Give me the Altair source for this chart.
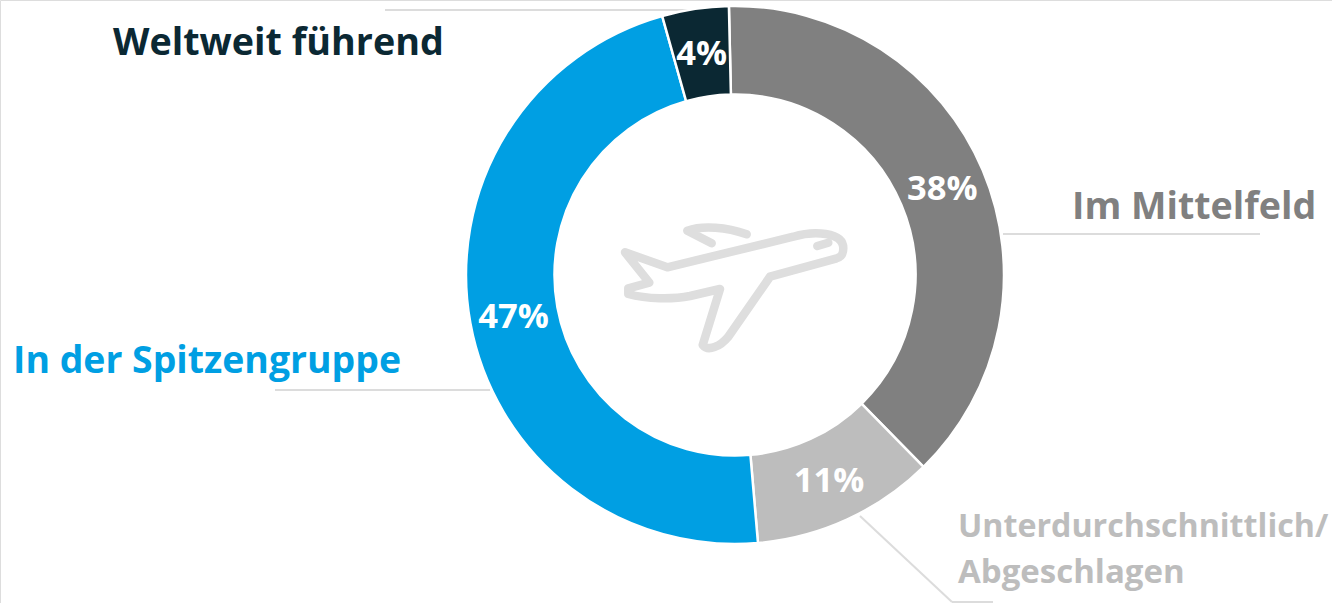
import math
import altair as alt
import pandas as pd

# Survey shares, clockwise from the top of the ring
segments = ["Im Mittelfeld", "Unterdurchschnittlich/Abgeschlagen", "In der Spitzengruppe", "Weltweit führend"]
shares = [38, 11, 47, 4]
percent_labels = ["38%", "11%", "47%", "4%"]
colors = ["#808080", "#bdbdbd", "#009fe3", "#0b2833"]

FONT = "Open Sans"
LEADER = "#dcdcdc"
CX, CY = 735, 275
START = math.radians(-1.3)

table = pd.DataFrame({
    "segment": segments,
    "share": shares,
    "label": percent_labels,
    "rank": range(len(segments)),
})

theta = alt.Theta(
    "share:Q",
    stack=True,
    scale=alt.Scale(domain=[0, 100], range=[START, START + 2 * math.pi]),
)
order = alt.Order("rank:Q", sort="ascending")
color = alt.Color(
    "segment:N",
    scale=alt.Scale(domain=segments, range=colors),
    legend=None,
)
cx, cy = alt.value(CX), alt.value(CY)

ring = (
    alt.Chart(table)
    .mark_arc(radius=269, radius2=180.5, stroke="#ffffff", strokeWidth=2.5)
    .encode(theta=theta, order=order, color=color, x=cx, y=cy)
)

percents = (
    alt.Chart(table)
    .mark_text(radius=225, dy=3, font=FONT, fontWeight="bold", fontSize=34.5, fill="#ffffff")
    .encode(theta=theta, order=order, text="label:N", x=cx, y=cy)
)

# Leader lines from the ring to each caption
base = alt.Chart(pd.DataFrame({"row": [0]}))


def leader(x1, y1, x2, y2):
    return base.mark_rule(stroke=LEADER, strokeWidth=2).encode(
        x=alt.value(x1), y=alt.value(y1), x2=alt.value(x2), y2=alt.value(y2)
    )


leaders = [
    leader(385, 10, 690, 10),
    leader(275, 390, 490, 390),
    leader(1003, 234, 1260, 234),
    leader(860, 516, 952, 602),
    leader(952, 602, 993, 602),
]


def caption(text, x, y, fill, size):
    return base.mark_text(
        text=text, align="left", baseline="alphabetic", font=FONT,
        fontWeight="bold", fontSize=size, fill=fill,
    ).encode(x=alt.value(x), y=alt.value(y))


captions = [
    caption("Weltweit führend", 113, 55, "#0b2833", 37.7),
    caption("In der Spitzengruppe", 13, 373, "#009fe3", 37.4),
    caption("Im Mittelfeld", 1072, 219, "#808080", 37.6),
    caption("Unterdurchschnittlich/", 958, 537, "#bdbdbd", 32.2),
    caption("Abgeschlagen", 958, 583, "#bdbdbd", 33),
]

# Aeroplane icon in the middle of the ring, outlined with round joins
AIRFRAME = (
    "M-110,-22.7 L-67.7,-7.7 L58.3,-38.3 C78.3,-44.3 108.3,-43.3 108.3,-26.7 "
    "C108.3,-20 106,-18 101.7,-16.7 L35,1.7 L-6.7,61.7 C-15,71.7 -26.7,76.7 -32.3,70 "
    "L-15,14 L-45,21 C-61.7,24.3 -88.3,24.3 -106.7,19 L-106.7,13.3 L-85.7,7.7 Z"
)
UPPER_WING = "M-23.3,-31.7 L-47.7,-44.3 C-31.7,-50 -8.3,-47.7 11.7,-40.7"
WINDOW = "M82.3,-29 L93.3,-32.3"

plane = [
    base.mark_point(
        shape=path, size=4, filled=False, stroke="#dedede", strokeWidth=8.5,
        opacity=1, strokeJoin="round", strokeCap="round",
    ).encode(x=cx, y=cy)
    for path in (AIRFRAME, UPPER_WING, WINDOW)
]

chart = (
    alt.layer(*leaders, ring, percents, *plane, *captions)
    .properties(width=1332, height=603, padding=0, autosize=alt.AutoSizeParams(type="none"))
    .configure_view(stroke=None)
    .configure(background="#ffffff")
)

chart.save("out.html", embed_options={"renderer": "svg", "actions": False})
